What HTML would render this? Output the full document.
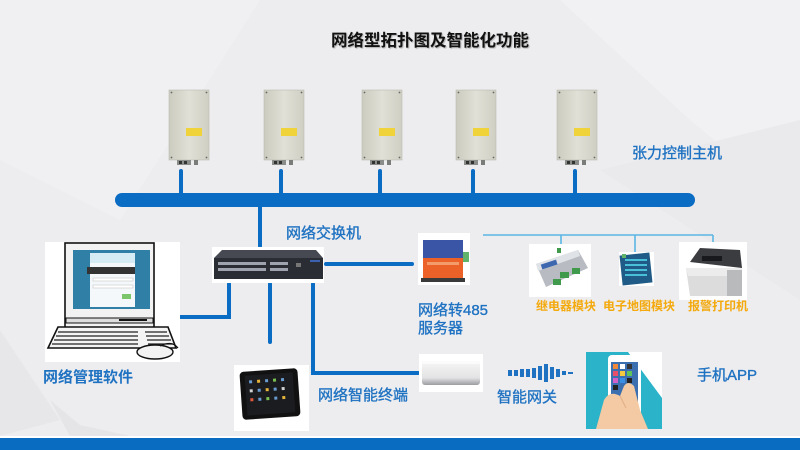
<!DOCTYPE html>
<html><head><meta charset="utf-8">
<style>
html,body{margin:0;padding:0;}
body{width:800px;height:450px;overflow:hidden;background:#ededef;position:relative;font-family:"Liberation Sans","Noto Sans CJK SC",sans-serif;}
svg{position:absolute;left:0;top:0;}
.t{position:absolute;white-space:nowrap;color:#1f72c2;font-size:15px;line-height:15px;-webkit-text-stroke:0.35px #1f72c2;}
.o{position:absolute;white-space:nowrap;color:#f4a90c;font-size:12px;line-height:12px;font-weight:bold;}
</style></head><body>
<svg width="800" height="450" viewBox="0 0 800 450" xmlns="http://www.w3.org/2000/svg">
<defs>
<linearGradient id="box" x1="0" y1="0" x2="1" y2="0">
<stop offset="0" stop-color="#cbcbbf"/><stop offset="0.5" stop-color="#e0e0d6"/><stop offset="1" stop-color="#cfcfc4"/>
</linearGradient>
<linearGradient id="gw" x1="0" y1="0" x2="0" y2="1">
<stop offset="0" stop-color="#f6f6f6"/><stop offset="0.7" stop-color="#e3e3e5"/><stop offset="1" stop-color="#9a9ca0"/>
</linearGradient>
</defs>
<!-- background facets -->
<polygon points="0,0 260,0 120,220 0,160" fill="#f0f0f2"/>
<polygon points="560,0 800,0 800,210 690,120" fill="#f1f1f3"/>
<polygon points="0,330 60,420 0,436" fill="#e7e7ea"/>
<polygon points="50,400 80,425 130,436 70,436" fill="#e5e5e8"/>
<polygon points="600,170 800,120 800,300" fill="#eaeaed"/>
<!-- bottom bar -->
<rect x="0" y="436" width="800" height="2" fill="#ffffff"/>
<rect x="0" y="438" width="800" height="12" fill="#0a6cc0"/>

<!-- main bus -->
<rect x="115" y="193" width="580" height="14" rx="7" fill="#0b6cc4"/>
<g stroke="#0b6cc4" stroke-width="4" stroke-linecap="round" fill="none">
<line x1="181" y1="171" x2="181" y2="195"/>
<line x1="281" y1="171" x2="281" y2="195"/>
<line x1="380" y1="171" x2="380" y2="195"/>
<line x1="473" y1="171" x2="473" y2="195"/>
<line x1="575" y1="171" x2="575" y2="195"/>
<line x1="260" y1="205" x2="260" y2="246"/>
<line x1="326" y1="264" x2="412" y2="264"/>
<path d="M229 284 V317 H174"/>
<line x1="270" y1="284" x2="270" y2="342"/>
<path d="M313 284 V373 H418"/>
</g>
<!-- thin line to peripherals -->
<g stroke="#5bb6e4" stroke-width="1.6" fill="none">
<path d="M483 235 H713"/>
<path d="M561 235 V252"/>
<path d="M635 235 V253"/>
<path d="M713 235 V252"/>
</g>

<!-- controller boxes -->
<g id="b1">
<rect x="169" y="90" width="40" height="70" fill="url(#box)" stroke="#b9bbb1" stroke-width="0.6"/>
<circle cx="171.5" cy="92.5" r="0.9" fill="#666"/><circle cx="206.5" cy="92.5" r="0.9" fill="#666"/>
<circle cx="171.5" cy="157.5" r="0.9" fill="#666"/><circle cx="206.5" cy="157.5" r="0.9" fill="#666"/>
<rect x="186" y="128" width="16" height="8" fill="#f0d23a"/>
<rect x="177" y="160" width="14" height="5" fill="#8a8c8a"/>
<rect x="179" y="161" width="3" height="3" fill="#333"/><rect x="184" y="161" width="3" height="3" fill="#333"/>
<rect x="194" y="160" width="4" height="5" fill="#7a7c7a"/>
</g>
<use href="#b1" x="95" y="0"/>
<use href="#b1" x="193" y="0"/>
<use href="#b1" x="287" y="0"/>
<use href="#b1" x="388" y="0"/>

<!-- computer -->
<rect x="45" y="242" width="135" height="120" fill="#ffffff"/>
<rect x="65" y="243" width="89" height="87" fill="#f2f2f2" stroke="#111" stroke-width="1.6"/>
<rect x="73" y="250" width="77" height="59" fill="#2f7fa6"/>
<rect x="90" y="253" width="45" height="54" fill="#f4f8fa"/>
<rect x="90" y="253" width="45" height="10" fill="#d6ecf4"/>
<rect x="87" y="267" width="48" height="7" fill="#333"/>
<rect x="93" y="278" width="40" height="3" fill="#fff" stroke="#bbb" stroke-width="0.5"/>
<rect x="93" y="285" width="40" height="3" fill="#fff" stroke="#bbb" stroke-width="0.5"/>
<rect x="122" y="294" width="9" height="5" fill="#7bc66a"/>
<rect x="66" y="318" width="87" height="5" fill="#ddd" stroke="#111" stroke-width="1"/>
<rect x="119" y="319" width="28" height="2" fill="#111"/>
<polygon points="58,327 168,327 176,348 48,348" fill="#f4f4f4" stroke="#111" stroke-width="1.6"/>
<g stroke="#222" stroke-width="1.2">
<line x1="58" y1="332" x2="138" y2="332"/><line x1="56" y1="336" x2="138" y2="336"/>
<line x1="54" y1="340" x2="138" y2="340"/><line x1="52" y1="344" x2="138" y2="344"/>
<line x1="145" y1="332" x2="167" y2="332"/><line x1="146" y1="336" x2="169" y2="336"/>
<line x1="147" y1="340" x2="171" y2="340"/><line x1="148" y1="344" x2="173" y2="344"/>
</g>
<ellipse cx="155" cy="352" rx="18" ry="7" fill="#f2f2f2" stroke="#111" stroke-width="1.4"/>
<path d="M160 346 Q172 340 178 348" stroke="#111" stroke-width="1.2" fill="none"/>

<!-- switch -->
<rect x="212" y="247" width="112" height="36" fill="#ffffff"/>
<polygon points="222,250 316,250 323,258 214,258" fill="#464952"/>
<rect x="214" y="258" width="109" height="21" fill="#2b2d34"/>
<g fill="#9ea3ad">
<rect x="218" y="262" width="48" height="3"/><rect x="218" y="268" width="48" height="3"/>
<rect x="270" y="262" width="18" height="3"/><rect x="270" y="268" width="18" height="3"/>
</g>
<rect x="296" y="263" width="5" height="4" fill="#777"/>
<rect x="310" y="260" width="10" height="2" fill="#3b62b0"/>

<!-- converter -->
<rect x="418" y="233" width="52" height="52" fill="#ffffff"/>
<rect x="423" y="240" width="40" height="20" fill="#3a55a6"/>
<rect x="423" y="258" width="40" height="20" fill="#ec6127"/>
<rect x="427" y="262" width="32" height="3" fill="#f39b6b"/>
<rect x="463" y="252" width="6" height="10" fill="#5fb36a"/>
<rect x="421" y="278" width="44" height="4" fill="#3a3a3a"/>

<!-- relay module -->
<rect x="529" y="244" width="62" height="53" fill="#ffffff"/>
<polygon points="536,264 578,250 588,268 546,287" fill="#b8bcc2"/>
<polygon points="536,264 578,250 580,256 538,271" fill="#dfe2e6"/>
<rect x="541" y="262" width="16" height="5" fill="#3d68b0" transform="rotate(-18 549 264)"/>
<rect x="560" y="272" width="9" height="6" fill="#3f9a4c"/>
<rect x="572" y="268" width="8" height="6" fill="#3f9a4c"/>
<rect x="553" y="279" width="8" height="6" fill="#3f9a4c"/>
<rect x="557" y="248" width="4" height="5" fill="#3f9a4c"/>

<!-- e-map module -->
<rect x="619" y="252" width="35" height="34" fill="#ffffff"/>
<rect x="621" y="254" width="30" height="30" fill="#1f5b86" transform="rotate(-6 636 269)"/>
<g fill="#49c0d8">
<rect x="625" y="259" width="22" height="2"/><rect x="625" y="264" width="22" height="2"/>
<rect x="625" y="269" width="22" height="2"/><rect x="625" y="274" width="22" height="2"/>
</g>
<rect x="622" y="254" width="4" height="4" fill="#5fb36a"/>

<!-- printer -->
<rect x="679" y="242" width="68" height="58" fill="#ffffff"/>
<polygon points="690,262 700,248 740,250 742,268" fill="#3b3c40"/>
<polygon points="686,268 742,268 742,296 690,296" fill="#dcdcdc"/>
<polygon points="686,268 742,268 740,276 688,276" fill="#ececec"/>
<rect x="702" y="256" width="20" height="5" fill="#18191c"/>
<rect x="727" y="270" width="15" height="26" fill="#b9babc"/>

<!-- tablet -->
<rect x="234" y="365" width="75" height="66" fill="#ffffff"/>
<g transform="rotate(-4 270 394)">
<rect x="241" y="370" width="58" height="48" rx="4" fill="#111"/>
<rect x="246" y="374" width="48" height="40" fill="#1b1c20"/>
<g fill="#6a9bd0">
<rect x="250" y="379" width="3" height="3"/><rect x="258" y="379" width="3" height="3" fill="#e6b43c"/><rect x="266" y="379" width="3" height="3"/><rect x="274" y="379" width="3" height="3" fill="#7cc24e"/><rect x="282" y="379" width="3" height="3"/>
<rect x="250" y="388" width="3" height="3" fill="#d0d0d0"/><rect x="258" y="388" width="3" height="3"/><rect x="266" y="388" width="3" height="3" fill="#e6b43c"/><rect x="274" y="388" width="3" height="3"/><rect x="282" y="388" width="3" height="3" fill="#d0d0d0"/>
<rect x="250" y="397" width="3" height="3" fill="#e05a3c"/><rect x="258" y="397" width="3" height="3"/><rect x="266" y="397" width="3" height="3" fill="#7cc24e"/><rect x="274" y="397" width="3" height="3"/><rect x="282" y="397" width="3" height="3" fill="#e6b43c"/>
</g>
</g>

<!-- gateway -->
<rect x="419" y="354" width="64" height="38" fill="#ffffff"/>
<rect x="422" y="361" width="58" height="24" rx="3" fill="url(#gw)"/>
<rect x="422" y="361" width="58" height="3" rx="1.5" fill="#fbfbfb"/>

<!-- wave icon -->
<g fill="#1f72c2">
<rect x="508" y="370" width="4" height="6"/><rect x="514" y="370" width="4" height="6"/>
<rect x="520" y="369" width="4" height="8"/><rect x="526" y="369" width="4" height="8"/>
<rect x="532" y="368" width="4" height="10"/><rect x="538" y="366" width="4" height="14"/>
<rect x="544" y="364" width="4" height="18"/><rect x="550" y="367" width="4" height="12"/>
<rect x="556" y="369" width="4" height="8"/><rect x="562" y="371" width="4" height="4"/>
<rect x="568" y="372" width="5" height="2"/>
</g>

<!-- phone app -->
<rect x="586" y="352" width="76" height="77" fill="#2ab3c9"/>
<polygon points="628,352 662,352 662,398" fill="#ffffff"/>
<rect x="608" y="355" width="33" height="63" rx="4" fill="#ffffff"/>
<rect x="611" y="362" width="27" height="48" fill="#3b6fb0"/>
<g>
<rect x="613" y="364" width="5" height="5" fill="#f08a3a"/><rect x="620" y="364" width="5" height="5" fill="#ffffff"/><rect x="627" y="364" width="5" height="5" fill="#333"/>
<rect x="613" y="371" width="5" height="5" fill="#e84f6a"/><rect x="620" y="371" width="5" height="5" fill="#f5c842"/><rect x="627" y="371" width="5" height="5" fill="#5fc25a"/>
<rect x="613" y="378" width="5" height="5" fill="#d35fc8"/><rect x="620" y="378" width="5" height="5" fill="#3a8ee6"/><rect x="627" y="378" width="5" height="5" fill="#222"/>
<rect x="613" y="385" width="5" height="5" fill="#222"/>
<rect x="613" y="402" width="5" height="5" fill="#5fc25a"/>
</g>
<path d="M596 429 L604 400 Q610 390 620 396 L624 386 Q628 380 634 386 L640 410 L648 429 Z" fill="#f3caa4"/>
<path d="M620 396 L626 408" stroke="#e0ad85" stroke-width="1" fill="none"/>
</svg>

<div class="t" style="left:331px;top:33px;color:#111;-webkit-text-stroke:0;font-size:16.5px;line-height:16.5px;font-weight:bold;text-shadow:1px 1px 1px rgba(0,0,0,0.25);">网络型拓扑图及智能化功能</div>
<div class="t" style="left:632px;top:146px;">张力控制主机</div>
<div class="t" style="left:286px;top:226px;">网络交换机</div>
<div class="t" style="left:418px;top:303px;">网络转485</div>
<div class="t" style="left:418px;top:321px;">服务器</div>
<div class="o" style="left:536px;top:300px;">继电器模块</div>
<div class="o" style="left:603px;top:300px;">电子地图模块</div>
<div class="o" style="left:688px;top:300px;">报警打印机</div>
<div class="t" style="left:43px;top:370px;font-weight:bold;-webkit-text-stroke:0;">网络管理软件</div>
<div class="t" style="left:318px;top:388px;">网络智能终端</div>
<div class="t" style="left:497px;top:390px;">智能网关</div>
<div class="t" style="left:697px;top:368px;">手机APP</div>
</body></html>
